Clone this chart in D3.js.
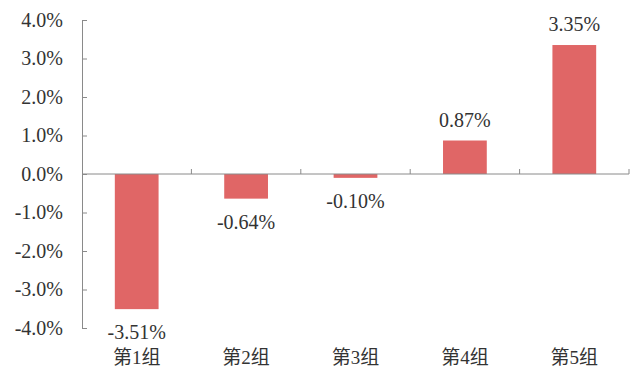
<!DOCTYPE html>
<html>
<head>
<meta charset="utf-8">
<script src="https://cdn.jsdelivr.net/npm/d3@7"></script>
<style>
  body { margin: 0; background: #fff; }
  text { font-family: "Liberation Serif", "Times New Roman", "Noto Sans CJK SC", serif; fill: #333; }
</style>
</head>
<body>
<div id="chart"></div>
<script>
// groups and their returns (%)
const groups = ["第1组", "第2组", "第3组", "第4组", "第5组"];
const returns = [-3.51, -0.64, -0.10, 0.87, 3.35];
const yTicks = [-4, -3, -2, -1, 0, 1, 2, 3, 4];

const width = 636;
const height = 375;
const margin = { top: 20, right: 7, bottom: 47, left: 82 };

const svg = d3.select("#chart")
  .append("svg")
  .attr("width", width)
  .attr("height", height);

const x = d3.scaleBand()
  .domain(groups)
  .range([margin.left, width - margin.right])
  .paddingInner(0.6)
  .paddingOuter(0.3);

const y = d3.scaleLinear()
  .domain([-4, 4])
  .range([height - margin.bottom, margin.top]);

// bars
svg.append("g")
  .selectAll("rect")
  .data(returns)
  .enter().append("rect")
  .attr("x", (d, i) => x(groups[i]))
  .attr("width", x.bandwidth())
  .attr("y", d => y(Math.max(0, d)))
  .attr("height", d => Math.abs(y(d) - y(0)))
  .attr("fill", "#e06666");

// y axis
const yAxis = svg.append("g")
  .attr("transform", `translate(${margin.left},0)`)
  .call(d3.axisLeft(y).tickValues(yTicks).tickSizeInner(-5).tickSizeOuter(-5)
    .tickPadding(19).tickFormat(d => d.toFixed(1) + "%"));
yAxis.select(".domain").attr("stroke", "#8a8a8a");
yAxis.selectAll(".tick line").attr("stroke", "#8a8a8a");
yAxis.selectAll(".tick text").attr("font-size", 20).attr("fill", "#333");

// zero line with ticks between categories
const boundaries = d3.range(groups.length + 1).map(i => margin.left + i * (width - margin.right - margin.left) / groups.length);
svg.append("line")
  .attr("x1", margin.left).attr("x2", width - margin.right)
  .attr("y1", y(0)).attr("y2", y(0))
  .attr("stroke", "#8a8a8a");
svg.append("g")
  .selectAll("line")
  .data(boundaries.slice(1))
  .enter().append("line")
  .attr("x1", d => d).attr("x2", d => d)
  .attr("y1", y(0)).attr("y2", y(0) - 5)
  .attr("stroke", "#8a8a8a");

// value labels
svg.append("g")
  .selectAll("text")
  .data(returns)
  .enter().append("text")
  .attr("x", (d, i) => x(groups[i]) + x.bandwidth() / 2)
  .attr("y", d => d >= 0 ? y(d) - 14 : y(d) + 30)
  .attr("text-anchor", "middle")
  .attr("font-size", 20)
  .text(d => d.toFixed(2) + "%");

// category labels
svg.append("g")
  .selectAll("text")
  .data(groups)
  .enter().append("text")
  .attr("x", d => x(d) + x.bandwidth() / 2)
  .attr("y", 364)
  .attr("text-anchor", "middle")
  .attr("font-size", 19)
  .text(d => d);
</script>
</body>
</html>
